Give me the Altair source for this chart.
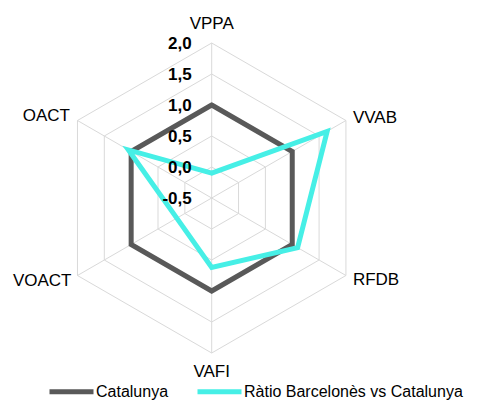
import altair as alt
import pandas as pd

# ---- data ----
axes = ["VPPA", "VVAB", "RFDB", "VAFI", "VOACT", "OACT"]
catalunya = [1.0, 1.0, 1.0, 1.0, 1.0, 1.0]
ratio = [-0.1, 1.65, 1.1, 0.62, 0.15, 1.05]
series_names = ["Catalunya", "Ràtio Barcelonès vs Catalunya"]
tick_values = [-0.5, 0.0, 0.5, 1.0, 1.5, 2.0]
tick_labels = ["-0,5", "0,0", "0,5", "1,0", "1,5", "2,0"]

RMIN = tick_values[0]
RMAX = tick_values[-1]
GRAY = "#595959"
CYAN = "#46EFE6"
GRID = "#D9D9D9"
FONT = "Liberation Sans"

W, H = 464, 393
K = 62.0            # pixels per unit
CX, CY = 203.7, 190.0  # centre inside the view
xdom = [-CX / K, (W - CX) / K]
ydom = [-(H - CY) / K, CY / K]

# ---- tables built from the arrays ----
rows = []
for name, vals in zip(series_names, [catalunya, ratio]):
    for k in range(len(axes) + 1):
        i = k % len(axes)
        rows.append({"series": name, "axis": axes[i], "idx": k, "value": vals[i]})
lines_df = pd.DataFrame(rows)

ring_df = pd.DataFrame(
    [{"ring": t, "idx": k, "value": t} for t in tick_values[1:] for k in range(len(axes) + 1)]
)
spoke_df = pd.DataFrame({"axis": axes, "idx": list(range(len(axes))), "value": [RMAX] * len(axes)})
tick_df = pd.DataFrame({"value": tick_values, "label": tick_labels})

xs = alt.Scale(domain=xdom, nice=False, zero=False)
ys = alt.Scale(domain=ydom, nice=False, zero=False)


def polar(ch):
    return ch.transform_calculate(
        ang="datum.idx * PI / 3",
        r=f"datum.value - ({RMIN})",
    ).transform_calculate(
        px="datum.r * sin(datum.ang)",
        py="datum.r * cos(datum.ang)",
    )


X = alt.X("px:Q", scale=xs, axis=None)
Y = alt.Y("py:Q", scale=ys, axis=None)

rings = polar(alt.Chart(ring_df)).mark_line(color=GRID, strokeWidth=1).encode(
    x=X, y=Y, detail="ring:N", order="idx:Q"
)

spokes = polar(alt.Chart(spoke_df)).mark_rule(color=GRID, strokeWidth=1).encode(
    x=X, y=Y, x2=alt.datum(0), y2=alt.datum(0)
)

color = alt.Color(
    "series:N",
    scale=alt.Scale(domain=series_names, range=[GRAY, CYAN]),
    legend=alt.Legend(
        title=None,
        orient="none",
        legendX=39,
        legendY=359,
        direction="horizontal",
        symbolType="stroke",
        symbolSize=1936,
        symbolStrokeWidth=5,
        labelFontSize=16,
        labelFont=FONT,
        labelColor="#000000",
        labelOffset=0,
        labelLimit=0,
        columnPadding=18,
        padding=0,
    ),
)

line_layers = []
for name in series_names:
    line_layers.append(
        polar(alt.Chart(lines_df))
        .transform_filter(alt.datum.series == name)
        .mark_line(strokeWidth=5, strokeCap="round", strokeJoin="miter")
        .encode(x=X, y=Y, color=color, order="idx:Q")
    )

ticks = polar(alt.Chart(tick_df).transform_calculate(idx="0")).mark_text(
    align="right", baseline="middle", dx=-20, dy=1, fontSize=17, fontWeight="bold", font=FONT, color="#000000"
).encode(x=X, y=Y, text="label:N")

label_specs = [
    ("VPPA", "center", 0, -19),
    ("VVAB", "left", 7, -3),
    ("RFDB", "left", 7, 4.5),
    ("VAFI", "center", 0, 19),
    ("VOACT", "right", -6, 5),
    ("OACT", "right", -7.5, -4.5),
]
label_layers = []
for nm, al, dx, dy in label_specs:
    label_layers.append(
        polar(alt.Chart(spoke_df))
        .transform_filter(alt.datum.axis == nm)
        .mark_text(align=al, baseline="middle", dx=dx, dy=dy, fontSize=17, font=FONT, color="#000000")
        .encode(x=X, y=Y, text="axis:N")
    )

chart = alt.layer(rings, spokes, *line_layers, ticks, *label_layers).properties(
    width=W, height=H, padding=0, autosize="none"
).configure_view(stroke=None)

chart.save("out.html", embed_options={"renderer": "svg", "actions": False})
